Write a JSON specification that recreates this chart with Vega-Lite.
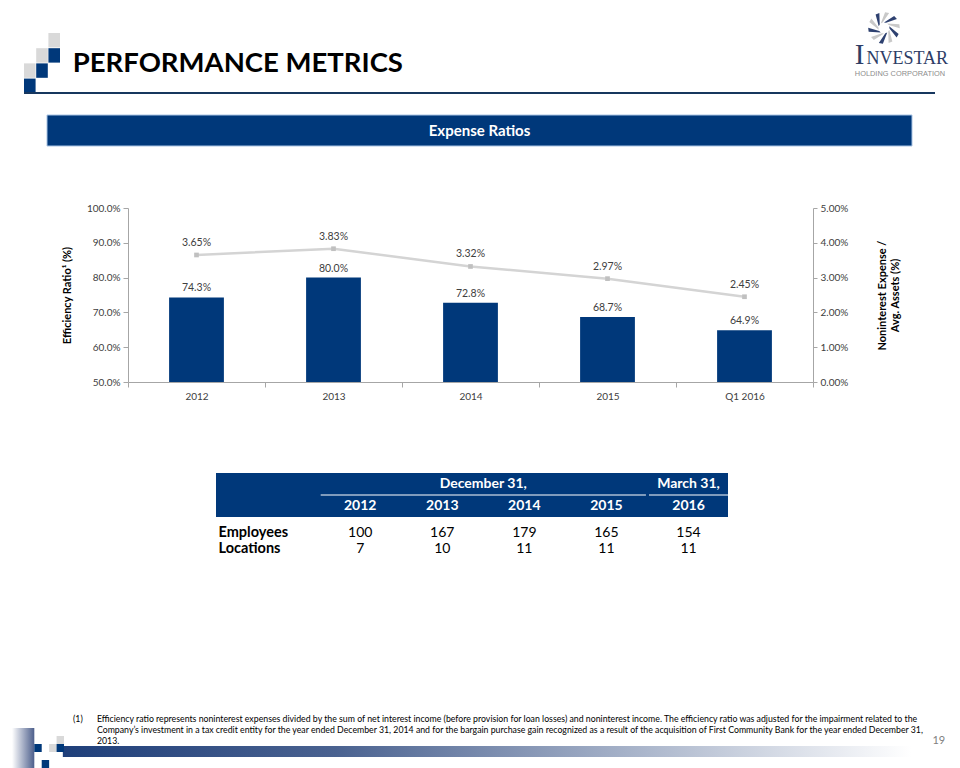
{
  "$schema": "https://vega.github.io/schema/vega-lite/v6.json",
  "background": "#ffffff",
  "padding": {"left": 0, "top": 12, "right": 0, "bottom": 0},
  "bounds": "flush",
  "center": true,
  "spacing": 0,
  "config": {
    "font": "Lato",
    "view": {"stroke": null},
    "axis": {"grid": false}
  },
  "datasets": {
    "ratios": [
      {"period": "2012", "efficiency": 0.743, "expense_assets": 0.0365},
      {"period": "2013", "efficiency": 0.800, "expense_assets": 0.0383},
      {"period": "2014", "efficiency": 0.728, "expense_assets": 0.0332},
      {"period": "2015", "efficiency": 0.687, "expense_assets": 0.0297},
      {"period": "Q1 2016", "efficiency": 0.649, "expense_assets": 0.0245}
    ],
    "staff": [
      {"metric": "Employees", "year": "2012", "value": 100},
      {"metric": "Employees", "year": "2013", "value": 167},
      {"metric": "Employees", "year": "2014", "value": 179},
      {"metric": "Employees", "year": "2015", "value": 165},
      {"metric": "Employees", "year": "2016", "value": 154},
      {"metric": "Locations", "year": "2012", "value": 7},
      {"metric": "Locations", "year": "2013", "value": 10},
      {"metric": "Locations", "year": "2014", "value": 11},
      {"metric": "Locations", "year": "2015", "value": 11},
      {"metric": "Locations", "year": "2016", "value": 11}
    ],
    "groups": [
      {"label": "December 31,", "first": "2012", "last": "2015"},
      {"label": "March 31,", "first": "2016", "last": "2016"}
    ],
    "logo": [
      {"col": 2, "row": 0, "shade": "grey"},
      {"col": 1, "row": 1, "shade": "grey"},
      {"col": 2, "row": 1, "shade": "blue"},
      {"col": 0, "row": 2, "shade": "grey"},
      {"col": 1, "row": 2, "shade": "blue"},
      {"col": 0, "row": 3, "shade": "blue"}
    ],
    "footlogo": [
      {"gc": "c3", "gr": "r2", "shade": "blue"},
      {"gc": "c5", "gr": "r2", "shade": "grey"},
      {"gc": "c6", "gr": "r1", "shade": "grey"},
      {"gc": "c6", "gr": "r2", "shade": "blue"},
      {"gc": "c4", "gr": "r4", "shade": "blue"}
    ],
    "footnote": [
      {"line": 1, "text": "Efficiency ratio represents noninterest expenses divided by the sum of net interest income (before provision for loan losses) and noninterest income. The efficiency ratio was adjusted for the impairment related to the"},
      {"line": 2, "text": "Company’s investment in a tax credit entity for the year ended December 31, 2014 and for the bargain purchase gain recognized as a result of the acquisition of First Community Bank for the year ended December 31,"},
      {"line": 3, "text": "2013."}
    ]
  },
  "vconcat": [
    {
      "width": 911,
      "height": 81,
      "layer": [
        {
          "data": {"name": "logo"},
          "mark": {"type": "rect"},
          "encoding": {
            "x": {"field": "col", "type": "ordinal", "scale": {"type": "band", "range": [0, 36], "paddingInner": 0.05, "paddingOuter": 0}, "axis": null},
            "y": {"field": "row", "type": "ordinal", "scale": {"type": "band", "range": [21, 81], "paddingInner": 0.05, "paddingOuter": 0}, "axis": null},
            "color": {"field": "shade", "type": "nominal", "scale": {"domain": ["grey", "blue"], "range": ["#d9d9d9", "#00387a"]}, "legend": null}
          }
        },
        {
          "data": {"values": [{}]},
          "layer": [
            {
              "mark": {"type": "rule", "color": "#17375e", "strokeWidth": 2},
              "encoding": {
                "x": {"datum": 0, "type": "quantitative", "scale": {"domain": [0, 1], "nice": false}, "axis": null},
                "x2": {"datum": 1},
                "y": {"datum": 1, "type": "quantitative", "scale": {"domain": [0, 1], "nice": false, "reverse": true}, "axis": null}
              }
            },
            {
              "mark": {"type": "text", "text": "PERFORMANCE METRICS", "fontSize": 27.5, "fontWeight": "bold", "color": "#000000", "align": "left", "baseline": "alphabetic"},
              "encoding": {
                "x": {"datum": 0.0535, "type": "quantitative", "scale": {"domain": [0, 1], "nice": false}, "axis": null},
                "y": {"datum": 0.737, "type": "quantitative", "scale": {"domain": [0, 1], "nice": false, "reverse": true}, "axis": null}
              }
            },
            {
              "mark": {"type": "point", "filled": true, "opacity": 1, "size": 1000, "color": "#2e4170", "shape": "M0,-0.35L0.643,-0.766L0.819,-0.574L0.131,-0.325Z M0.333,-0.108L0.927,0.375L0.799,0.602L0.349,0.024Z M0.206,0.283L-0.07,0.998L-0.326,0.946L0.085,0.34Z M-0.206,0.283L-0.97,0.242L-1,-0.018L-0.297,0.185Z M-0.333,-0.108L-0.53,-0.848L-0.292,-0.956L-0.268,-0.225Z"},
              "encoding": {
                "x": {"datum": 0.944, "type": "quantitative", "scale": {"domain": [0, 1], "nice": false}, "axis": null},
                "y": {"datum": 0.1975, "type": "quantitative", "scale": {"domain": [0, 1], "nice": false, "reverse": true}, "axis": null}
              }
            },
            {
              "mark": {"type": "point", "filled": true, "opacity": 1, "size": 1000, "color": "#c9c9c9", "shape": "M0.206,-0.283L0.97,-0.242L1,0.018L0.297,-0.185Z M0.333,0.108L0.53,0.848L0.292,0.956L0.268,0.225Z M0,0.35L-0.643,0.766L-0.819,0.574L-0.131,0.325Z M-0.333,0.108L-0.927,-0.375L-0.799,-0.602L-0.349,-0.024Z M-0.206,-0.283L0.07,-0.998L0.326,-0.946L-0.085,-0.34Z"},
              "encoding": {
                "x": {"datum": 0.944, "type": "quantitative", "scale": {"domain": [0, 1], "nice": false}, "axis": null},
                "y": {"datum": 0.1975, "type": "quantitative", "scale": {"domain": [0, 1], "nice": false, "reverse": true}, "axis": null}
              }
            },
            {
              "mark": {"type": "text", "text": "I", "font": "Liberation Serif", "fontSize": 29, "color": "#2e3d66", "align": "left", "baseline": "alphabetic"},
              "encoding": {
                "x": {"datum": 0.912, "type": "quantitative", "scale": {"domain": [0, 1], "nice": false}, "axis": null},
                "y": {"datum": 0.642, "type": "quantitative", "scale": {"domain": [0, 1], "nice": false, "reverse": true}, "axis": null}
              }
            },
            {
              "mark": {"type": "text", "text": "NVESTAR", "font": "Liberation Serif", "fontSize": 18, "color": "#2e3d66", "align": "left", "baseline": "alphabetic"},
              "encoding": {
                "x": {"datum": 0.9248, "type": "quantitative", "scale": {"domain": [0, 1], "nice": false}, "axis": null},
                "y": {"datum": 0.642, "type": "quantitative", "scale": {"domain": [0, 1], "nice": false, "reverse": true}, "axis": null}
              }
            },
            {
              "mark": {"type": "text", "text": "HOLDING CORPORATION", "font": "Liberation Sans", "fontSize": 7.4, "color": "#8c8c8c", "align": "left", "baseline": "alphabetic"},
              "encoding": {
                "x": {"datum": 0.912, "type": "quantitative", "scale": {"domain": [0, 1], "nice": false}, "axis": null},
                "y": {"datum": 0.784, "type": "quantitative", "scale": {"domain": [0, 1], "nice": false, "reverse": true}, "axis": null}
              }
            }
          ]
        }
      ],
      "resolve": {"scale": {"x": "independent", "y": "independent", "color": "independent"}}
    },
    {"width": 1, "height": 22, "data": {"values": [{}]}, "mark": {"type": "text", "text": ""}},
    {
      "width": 865,
      "height": 31,
      "data": {"values": [{}]},
      "layer": [
        {"mark": {"type": "rect", "color": "#00387a", "stroke": "#a9c4e4", "strokeWidth": 1}, "encoding": {}},
        {"mark": {"type": "text", "text": "Expense Ratios", "color": "#ffffff", "fontSize": 15, "fontWeight": "bold"}, "encoding": {}}
      ]
    },
    {"width": 1, "height": 62, "data": {"values": [{}]}, "mark": {"type": "text", "text": ""}},
    {
      "width": 703,
      "height": 174,
      "data": {"name": "ratios"},
      "encoding": {
        "x": {
          "field": "period", "type": "nominal", "sort": null,
          "scale": {"range": [0, 685], "paddingInner": 0, "paddingOuter": 0},
          "axis": {"title": null, "labelAngle": 0, "tickBand": "extent", "tickSize": 5, "tickColor": "#a6a6a6", "domainColor": "#a6a6a6", "labelColor": "#404040", "labelFontSize": 10, "labelPadding": 4}
        }
      },
      "layer": [
        {
          "layer": [
            {
              "mark": {"type": "bar", "color": "#00387a", "width": {"band": 0.4}},
              "encoding": {
                "y": {
                  "field": "efficiency", "type": "quantitative",
                  "scale": {"domain": [0.5, 1.0], "nice": false, "zero": false},
                  "axis": {"orient": "left", "values": [0.5, 0.6, 0.7, 0.8, 0.9, 1.0], "tickCount": 6, "format": ".1%", "labelOverlap": false, "title": "Efficiency Ratio¹ (%)", "titleFontSize": 11, "titleFontWeight": "bold", "titleColor": "#000000", "titlePadding": 14, "tickSize": 5, "tickColor": "#a6a6a6", "domainColor": "#a6a6a6", "labelColor": "#404040", "labelFontSize": 10, "labelPadding": 3}
                },
                "y2": {"datum": 0.5}
              }
            },
            {
              "mark": {"type": "text", "baseline": "bottom", "dy": -4, "fontSize": 10.5, "color": "#404040"},
              "encoding": {
                "y": {"field": "efficiency", "type": "quantitative"},
                "text": {"field": "efficiency", "type": "quantitative", "format": ".1%"}
              }
            }
          ]
        },
        {
          "layer": [
            {
              "mark": {"type": "line", "color": "#d4d4d4", "strokeWidth": 2.5, "point": {"filled": true, "shape": "square", "size": 22, "color": "#c0c0c0"}},
              "encoding": {
                "y": {
                  "field": "expense_assets", "type": "quantitative",
                  "scale": {"domain": [0, 0.05], "nice": false},
                  "axis": {"orient": "right", "offset": -18, "values": [0, 0.01, 0.02, 0.03, 0.04, 0.05], "tickCount": 6, "format": ".2%", "labelOverlap": false, "title": ["Noninterest Expense /", "Avg. Assets (%)"], "titleAngle": 270, "titleFontSize": 11, "titleFontWeight": "bold", "titleColor": "#000000", "titlePadding": 27, "tickSize": 4, "tickColor": "#a6a6a6", "domainColor": "#a6a6a6", "labelColor": "#404040", "labelFontSize": 10, "labelPadding": 3}
                }
              }
            },
            {
              "mark": {"type": "text", "baseline": "bottom", "dy": -7, "fontSize": 10.5, "color": "#404040"},
              "encoding": {
                "y": {"field": "expense_assets", "type": "quantitative"},
                "text": {"field": "expense_assets", "type": "quantitative", "format": ".2%"}
              }
            }
          ]
        }
      ],
      "resolve": {"scale": {"y": "independent"}}
    },
    {"width": 1, "height": 91, "data": {"values": [{}]}, "mark": {"type": "text", "text": ""}},
    {
      "width": 527,
      "height": 44,
      "layer": [
        {
          "data": {"values": [{}]},
          "mark": {"type": "rect", "color": "#00387a"},
          "encoding": {
            "x": {"datum": 0, "type": "quantitative", "scale": {"domain": [0, 1], "range": [0, 512], "nice": false, "zero": false}, "axis": null},
            "x2": {"datum": 1}
          }
        },
        {
          "layer": [
            {
              "data": {"name": "staff"},
              "transform": [{"filter": "datum.metric === 'Employees'"}],
              "mark": {"type": "text", "color": "#ffffff", "fontSize": 14, "fontWeight": "bold"},
              "encoding": {
                "x": {"field": "year", "type": "ordinal", "scale": {"type": "band", "domain": ["2012", "2013", "2014", "2015", "2016"], "range": [104.7, 512], "paddingInner": 0.0375, "paddingOuter": 0}, "axis": null},
                "y": {"datum": "h2", "type": "nominal", "scale": {"type": "band", "domain": ["h1", "h2"], "paddingInner": 0, "paddingOuter": 0}, "axis": null},
                "text": {"field": "year"}
              }
            },
            {
              "data": {"name": "groups"},
              "mark": {"type": "rule", "color": "#ffffff", "strokeWidth": 1},
              "encoding": {
                "x": {"field": "first", "type": "ordinal", "bandPosition": 0},
                "x2": {"field": "last", "bandPosition": 1},
                "y": {"datum": "h2", "type": "nominal", "bandPosition": 0}
              }
            },
            {
              "data": {"values": [{}]},
              "mark": {"type": "text", "text": "December 31,", "color": "#ffffff", "fontSize": 14, "fontWeight": "bold"},
              "encoding": {
                "x": {"datum": "2014", "type": "ordinal", "bandPosition": -0.02},
                "y": {"datum": "h1", "type": "nominal"}
              }
            },
            {
              "data": {"values": [{}]},
              "mark": {"type": "text", "text": "March 31,", "color": "#ffffff", "fontSize": 14, "fontWeight": "bold"},
              "encoding": {
                "x": {"datum": "2016", "type": "ordinal"},
                "y": {"datum": "h1", "type": "nominal"}
              }
            }
          ]
        }
      ],
      "resolve": {"scale": {"x": "independent"}}
    },
    {"width": 1, "height": 8, "data": {"values": [{}]}, "mark": {"type": "text", "text": ""}},
    {
      "width": 527,
      "height": 32,
      "data": {"name": "staff"},
      "mark": {"type": "text", "fontSize": 14, "color": "#000000"},
      "encoding": {
        "x": {"field": "year", "type": "ordinal", "scale": {"type": "band", "domain": ["2012", "2013", "2014", "2015", "2016"], "range": [104.7, 512], "paddingInner": 0.0375, "paddingOuter": 0}, "axis": null},
        "y": {
          "field": "metric", "type": "nominal", "sort": ["Employees", "Locations"],
          "scale": {"type": "band", "paddingInner": 0, "paddingOuter": 0},
          "axis": {"orient": "left", "title": null, "domain": false, "ticks": false, "tickSize": 0, "labelAlign": "left", "labelPadding": -2, "labelFontSize": 14.5, "labelFontWeight": "bold", "labelColor": "#000000", "labelBaseline": "middle"}
        },
        "text": {"field": "value", "type": "quantitative"}
      }
    },
    {"width": 1, "height": 156, "data": {"values": [{}]}, "mark": {"type": "text", "text": ""}},
    {
      "width": 959,
      "height": 55,
      "layer": [
        {
          "layer": [
            {
              "data": {"values": [{}]},
              "mark": {
                "type": "rect",
                "color": {"gradient": "linear", "x1": 0, "x2": 1, "y1": 0, "y2": 0, "stops": [
                  {"offset": 0, "color": "#ffffff"},
                  {"offset": 0.065, "color": "#ffffff"},
                  {"offset": 0.066, "color": "#1f3f7a"},
                  {"offset": 0.35, "color": "#4a6290"},
                  {"offset": 0.95, "color": "#ffffff"}
                ]}
              },
              "encoding": {
                "y": {"datum": 4, "type": "ordinal", "scale": {"type": "band", "domain": [1, 2, 3, 4, 5], "paddingInner": 0, "paddingOuter": 0}, "axis": null}
              }
            },
            {
              "data": {"name": "footnote"},
              "mark": {"type": "text", "align": "left", "fontSize": 8.75, "color": "#000000"},
              "encoding": {
                "x": {"datum": 0.1011, "type": "quantitative", "scale": {"domain": [0, 1], "nice": false}, "axis": null},
                "y": {"field": "line", "type": "ordinal"},
                "text": {"field": "text"}
              }
            },
            {
              "data": {"values": [{}]},
              "mark": {"type": "text", "text": "(1)", "align": "left", "fontSize": 8.75, "color": "#000000"},
              "encoding": {
                "x": {"datum": 0.0761, "type": "quantitative"},
                "y": {"datum": 1, "type": "ordinal"}
              }
            },
            {
              "data": {"values": [{}]},
              "mark": {"type": "text", "text": "19", "fontSize": 11, "color": "#808080"},
              "encoding": {
                "x": {"datum": 0.979, "type": "quantitative"},
                "y": {"datum": 3, "type": "ordinal"}
              }
            }
          ]
        },
        {
          "layer": [
            {
              "data": {"values": [{}]},
              "mark": {
                "type": "rect",
                "color": {"gradient": "linear", "x1": 0, "x2": 1, "y1": 0, "y2": 0, "stops": [
                  {"offset": 0, "color": "#ffffff"},
                  {"offset": 1, "color": "#4d5f8c"}
                ]}
              },
              "encoding": {
                "x": {"datum": "c0", "type": "ordinal", "bandPosition": 0, "scale": {"type": "band", "domain": ["c0", "c1", "c2", "c3", "c4", "c5", "c6"], "range": [12, 64], "paddingInner": 0, "paddingOuter": 0}, "axis": null},
                "x2": {"datum": "c2", "bandPosition": 1},
                "y": {"datum": "r0", "type": "ordinal", "bandPosition": 0, "scale": {"type": "band", "domain": ["r0", "r1", "r2", "r3", "r4"], "range": [15, 55], "paddingInner": 0, "paddingOuter": 0}, "axis": null},
                "y2": {"datum": "r4", "bandPosition": 1}
              }
            },
            {
              "data": {"name": "footlogo"},
              "mark": {"type": "rect"},
              "encoding": {
                "x": {"field": "gc", "type": "ordinal"},
                "y": {"field": "gr", "type": "ordinal"},
                "color": {"field": "shade", "type": "nominal", "scale": {"domain": ["grey", "blue"], "range": ["#d9d9d9", "#00387a"]}, "legend": null}
              }
            }
          ]
        }
      ],
      "resolve": {"scale": {"x": "independent", "y": "independent"}}
    }
  ]
}
